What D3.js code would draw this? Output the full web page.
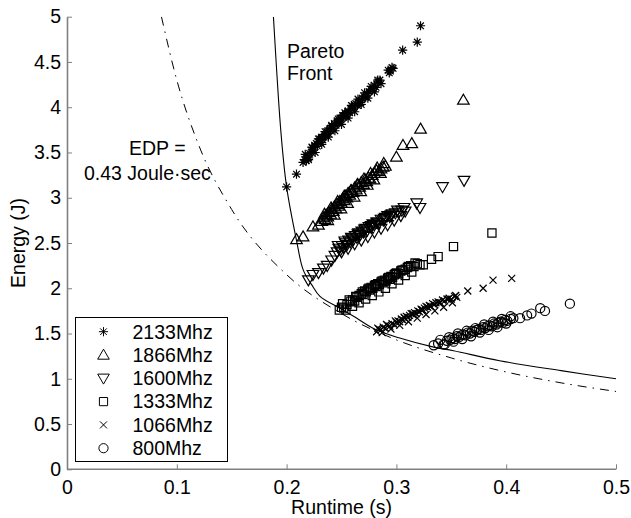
<!DOCTYPE html>
<html>
<head>
<meta charset="utf-8">
<script src="https://cdn.jsdelivr.net/npm/d3@7"></script>
<style>
  body { margin: 0; background: #fff; }
  svg { display: block; font-family: "Liberation Sans", Arial, Helvetica, sans-serif; }
</style>
</head>
<body>
<div id="chart"></div>
<script>
// Runtime (s) / Energy (J) pairs, one list per memory clock
const s2133 = [[0.200,3.12],[0.209,3.26],[0.215,3.39],[0.2165,3.42],[0.218,3.41],[0.219,3.46],[0.220,3.44],[0.221,3.49],
  [0.2225,3.50],[0.2235,3.55],[0.2245,3.53],[0.2255,3.58],[0.227,3.60],[0.228,3.57],[0.229,3.62],[0.230,3.65],[0.231,3.61],
  [0.232,3.67],[0.233,3.64],[0.2345,3.70],[0.2355,3.68],[0.2365,3.73],[0.238,3.71],[0.239,3.76],[0.240,3.74],[0.241,3.79],
  [0.2425,3.77],[0.2435,3.82],[0.245,3.80],[0.246,3.85],[0.247,3.83],[0.2485,3.88],[0.2495,3.86],[0.251,3.91],[0.252,3.89],
  [0.2535,3.93],[0.255,3.92],[0.256,3.96],[0.2575,3.94],[0.259,3.98],[0.260,4.01],[0.2615,3.99],[0.263,4.04],[0.2645,4.02],
  [0.266,4.07],[0.2675,4.05],[0.269,4.10],[0.2705,4.12],[0.272,4.11],[0.2735,4.15],[0.275,4.17],[0.2765,4.20],[0.278,4.19],
  [0.280,4.24],[0.2815,4.22],[0.283,4.28],[0.285,4.30],[0.2925,4.41],[0.2945,4.40],[0.297,4.43],[0.3057,4.63],[0.319,4.72],[0.322,4.90],
  [0.217,3.48],[0.220,3.42],[0.223,3.56],[0.226,3.50],[0.229,3.65],[0.232,3.59],[0.235,3.73],[0.238,3.67],[0.241,3.80],
  [0.244,3.74],[0.247,3.87],[0.250,3.81],[0.253,3.94],[0.256,3.88],[0.259,4.02],[0.262,3.95],[0.265,4.09],[0.268,4.03],
  [0.271,4.16],[0.274,4.10],[0.277,4.23],[0.280,4.17],[0.283,4.30],[0.286,4.26],[0.2935,4.38],[0.296,4.44]];
const s1866 = [[0.209,2.54],[0.215,2.57],[0.224,2.68],[0.229,2.70],[0.232,2.74],[0.2335,2.78],[0.235,2.76],[0.236,2.81],
  [0.2375,2.79],[0.2385,2.84],[0.240,2.82],[0.241,2.87],[0.2425,2.85],[0.2435,2.90],[0.245,2.88],[0.246,2.93],[0.2475,2.91],
  [0.2485,2.96],[0.250,2.94],[0.251,2.99],[0.2525,2.97],[0.2535,3.02],[0.255,3.00],[0.256,3.05],[0.2575,3.03],[0.259,3.08],
  [0.2605,3.06],[0.262,3.11],[0.2635,3.09],[0.265,3.14],[0.2665,3.12],[0.268,3.17],[0.270,3.15],[0.2715,3.20],[0.273,3.18],
  [0.2745,3.22],[0.276,3.21],[0.278,3.25],[0.280,3.27],[0.282,3.30],[0.284,3.29],[0.286,3.32],[0.288,3.34],[0.290,3.35],
  [0.300,3.45],[0.306,3.58],[0.314,3.60],[0.322,3.76],[0.361,4.08],
  [0.2345,2.82],[0.2375,2.75],[0.2405,2.89],[0.2435,2.81],[0.2465,2.96],[0.2495,2.88],[0.2525,3.02],[0.2555,2.94],
  [0.2585,3.08],[0.2615,3.01],[0.2645,3.15],[0.2675,3.07],[0.2705,3.21],[0.2735,3.14],[0.2765,3.27],[0.2795,3.20],
  [0.2825,3.33],[0.2855,3.27],[0.2885,3.38]];
const s1600 = [[0.2198,2.09],[0.224,2.15],[0.229,2.17],[0.2335,2.22],[0.237,2.25],[0.241,2.31],[0.244,2.36],[0.246,2.40],
  [0.2475,2.44],[0.249,2.42],[0.2505,2.47],[0.252,2.45],[0.2535,2.50],[0.255,2.48],[0.2565,2.53],[0.258,2.51],[0.2595,2.55],
  [0.261,2.54],[0.2625,2.58],[0.264,2.56],[0.2655,2.61],[0.267,2.59],[0.2685,2.63],[0.270,2.62],[0.272,2.66],[0.2735,2.64],
  [0.275,2.68],[0.277,2.67],[0.2785,2.71],[0.280,2.70],[0.282,2.73],[0.284,2.72],[0.286,2.76],[0.288,2.75],[0.290,2.78],
  [0.292,2.80],[0.294,2.79],[0.296,2.82],[0.299,2.83],[0.302,2.84],[0.305,2.86],[0.308,2.85],[0.3185,2.94],[0.3215,2.89],
  [0.342,3.12],[0.3616,3.19],
  [0.247,2.47],[0.250,2.40],[0.253,2.52],[0.256,2.44],[0.259,2.56],[0.262,2.49],[0.265,2.60],[0.268,2.53],[0.271,2.65],
  [0.274,2.57],[0.277,2.69],[0.280,2.62],[0.283,2.73],[0.286,2.66],[0.289,2.77],[0.292,2.70],[0.295,2.81],[0.298,2.75],
  [0.301,2.86],[0.304,2.80],[0.307,2.89]];
const s1333 = [[0.248,1.76],[0.250,1.79],[0.252,1.78],[0.255,1.82],[0.258,1.85],[0.260,1.87],[0.262,1.86],[0.264,1.90],
  [0.266,1.92],[0.268,1.94],[0.2695,1.93],[0.271,1.97],[0.2725,1.96],[0.274,1.99],[0.2755,1.98],[0.277,2.01],[0.2785,2.00],
  [0.280,2.03],[0.2815,2.02],[0.283,2.05],[0.2845,2.04],[0.286,2.07],[0.2875,2.06],[0.289,2.09],[0.2905,2.08],[0.292,2.11],
  [0.2935,2.10],[0.295,2.13],[0.2965,2.12],[0.298,2.15],[0.300,2.17],[0.302,2.16],[0.304,2.19],[0.306,2.20],[0.308,2.21],
  [0.310,2.23],[0.313,2.25],[0.316,2.24],[0.319,2.27],[0.3215,2.26],[0.3245,2.26],[0.332,2.32],[0.338,2.35],[0.352,2.46],[0.387,2.61],
  [0.251,1.83],[0.254,1.76],[0.257,1.87],[0.260,1.80],[0.263,1.91],[0.266,1.84],[0.269,1.96],[0.272,1.88],[0.275,2.00],
  [0.278,1.92],[0.281,2.04],[0.284,1.96],[0.287,2.08],[0.290,2.00],[0.293,2.12],[0.296,2.05],[0.299,2.16],[0.302,2.09],
  [0.305,2.20],[0.308,2.14],[0.311,2.24],[0.314,2.18],[0.317,2.28]];
const s1066 = [[0.282,1.52],[0.284,1.55],[0.286,1.54],[0.288,1.57],[0.290,1.56],[0.292,1.59],[0.294,1.58],[0.296,1.61],
  [0.298,1.60],[0.300,1.62],[0.3015,1.64],[0.303,1.63],[0.3045,1.66],[0.306,1.65],[0.3075,1.67],[0.309,1.69],[0.3105,1.68],
  [0.312,1.70],[0.3135,1.72],[0.315,1.71],[0.3165,1.73],[0.318,1.72],[0.3195,1.75],[0.321,1.74],[0.3225,1.77],[0.324,1.76],
  [0.3255,1.78],[0.327,1.80],[0.3285,1.79],[0.330,1.81],[0.3315,1.80],[0.333,1.83],[0.3345,1.82],[0.336,1.84],[0.338,1.85],
  [0.340,1.84],[0.342,1.87],[0.344,1.86],[0.346,1.88],[0.348,1.89],[0.350,1.88],[0.353,1.91],[0.355,1.90],[0.365,1.97],
  [0.379,2.00],[0.388,2.09],[0.405,2.11],
  [0.283,1.56],[0.287,1.51],[0.291,1.60],[0.295,1.55],[0.299,1.64],[0.303,1.59],[0.307,1.68],[0.311,1.63],[0.315,1.72],
  [0.319,1.67],[0.323,1.76],[0.327,1.71],[0.331,1.80],[0.335,1.75],[0.339,1.84],[0.343,1.79],[0.347,1.88],[0.351,1.84],[0.354,1.92]];
const s800 = [[0.334,1.37],[0.338,1.39],[0.343,1.38],[0.346,1.42],[0.349,1.43],[0.351,1.45],[0.353,1.44],[0.355,1.47],
  [0.357,1.46],[0.359,1.48],[0.361,1.49],[0.363,1.48],[0.365,1.51],[0.367,1.50],[0.369,1.53],[0.371,1.52],[0.373,1.54],
  [0.375,1.55],[0.377,1.54],[0.379,1.57],[0.381,1.56],[0.383,1.58],[0.385,1.59],[0.387,1.58],[0.389,1.61],[0.391,1.60],
  [0.393,1.62],[0.395,1.63],[0.397,1.62],[0.399,1.65],[0.401,1.64],[0.404,1.66],[0.4065,1.67],[0.4126,1.67],[0.419,1.70],
  [0.423,1.72],[0.431,1.78],[0.4353,1.75],[0.458,1.83],
  [0.340,1.43],[0.344,1.38],[0.348,1.46],[0.352,1.41],[0.356,1.50],[0.360,1.44],[0.364,1.53],[0.368,1.47],[0.372,1.56],
  [0.376,1.51],[0.380,1.60],[0.384,1.54],[0.388,1.63],[0.392,1.57],[0.396,1.66],[0.400,1.61],[0.404,1.69]];

const seriesNames = ["2133Mhz", "1866Mhz", "1600Mhz", "1333Mhz", "1066Mhz", "800Mhz"];
const seriesData = [s2133, s1866, s1600, s1333, s1066, s800];
const seriesMarkers = ["star", "up", "down", "square", "cross", "circle"];

// solid Pareto front and dash-dot EDP = 0.43 curve
const paretoFront = [[0.188,5.0],[0.1915,4.3],[0.195,3.7],[0.200,3.12],[0.209,2.53],[0.2152,2.2],[0.2228,2.04],
  [0.2304,1.91],[0.250,1.77],[0.261,1.69],[0.280,1.55],[0.303,1.45],[0.334,1.35],[0.352,1.31],[0.394,1.2],[0.450,1.09],[0.500,1.0]];
const edpCurve = [[0.086,5.0],[0.10,4.3],[0.12,3.58],[0.15,2.87],[0.20,2.15],[0.25,1.72],[0.30,1.43],[0.35,1.23],[0.40,1.075],[0.45,0.955],[0.50,0.86]];

const xTicks = [0, 0.1, 0.2, 0.3, 0.4, 0.5];
const yTicks = [0, 0.5, 1, 1.5, 2, 2.5, 3, 3.5, 4, 4.5, 5];

const width = 631, height = 518;
const fontSize = "19.5px";

const x = d3.scaleLinear().domain([0, 0.5]).range([67, 616]);
const y = d3.scaleLinear().domain([0, 5]).range([469.3, 16.7]);

const svg = d3.select("#chart").append("svg")
    .attr("width", width)
    .attr("height", height);

svg.append("rect").attr("width", width).attr("height", height).attr("fill", "#fff");

// marker shapes, centred on 0,0
function markerPath(kind) {
  const p = d3.path();
  if (kind === "star") {
    const r = 4.6, d = 3.3;
    p.moveTo(-r, 0); p.lineTo(r, 0);
    p.moveTo(0, -r); p.lineTo(0, r);
    p.moveTo(-d, -d); p.lineTo(d, d);
    p.moveTo(-d, d); p.lineTo(d, -d);
  } else if (kind === "up") {
    p.moveTo(0, -5.8); p.lineTo(5.8, 4.2); p.lineTo(-5.8, 4.2); p.closePath();
  } else if (kind === "down") {
    p.moveTo(0, 5.8); p.lineTo(5.8, -4.2); p.lineTo(-5.8, -4.2); p.closePath();
  } else if (kind === "square") {
    p.rect(-4.1, -4.1, 8.2, 8.2);
  } else if (kind === "cross") {
    const r = 3.5;
    p.moveTo(-r, -r); p.lineTo(r, r);
    p.moveTo(-r, r); p.lineTo(r, -r);
  } else {
    p.arc(0, 0, 4.6, 0, 2 * Math.PI);
  }
  return p.toString();
}

// axes
const xAxis = d3.axisBottom(x).tickValues(xTicks).tickFormat(d3.format("")).tickSizeInner(-5).tickSizeOuter(0).tickPadding(11);
const yAxis = d3.axisLeft(y).tickValues(yTicks).tickFormat(d3.format("")).tickSizeInner(-5).tickSizeOuter(0).tickPadding(6);

const gx = svg.append("g").attr("transform", `translate(0,${y(0)})`).call(xAxis);
const gy = svg.append("g").attr("transform", `translate(${x(0)},0)`).call(yAxis);

[gx, gy].forEach(g => {
  g.select(".domain").attr("stroke", "#808080").attr("stroke-width", 1.6);
  g.selectAll(".tick line").attr("stroke", "#808080").attr("stroke-width", 1);
  g.selectAll(".tick text").attr("fill", "#000").style("font-size", fontSize).style("font-family", "Liberation Sans, Arial, sans-serif");
});
gx.select(".domain").attr("d", `M${x(0)},0H${x(0.5)}`);

svg.append("text")
    .attr("x", (x(0) + x(0.5)) / 2)
    .attr("y", 514)
    .attr("text-anchor", "middle")
    .style("font-size", fontSize)
    .text("Runtime (s)");

svg.append("text")
    .attr("transform", `translate(25,${(y(0) + y(5)) / 2}) rotate(-90)`)
    .attr("text-anchor", "middle")
    .style("font-size", fontSize)
    .text("Energy (J)");

// curves
svg.append("clipPath").attr("id", "plotclip")
  .append("rect").attr("x", x(0)).attr("y", y(5)).attr("width", x(0.5) - x(0)).attr("height", y(0) - y(5));

const line = d3.line().x(d => x(d[0])).y(d => y(d[1])).curve(d3.curveMonotoneX);

svg.append("path")
    .attr("d", line(edpCurve))
    .attr("clip-path", "url(#plotclip)")
    .attr("fill", "none")
    .attr("stroke", "#000")
    .attr("stroke-width", 1)
    .attr("stroke-dasharray", "9,6,1.5,6");

svg.append("path")
    .attr("d", d3.line().x(d => x(d[0])).y(d => y(d[1])).curve(d3.curveCatmullRom.alpha(0.5))(paretoFront))
    .attr("clip-path", "url(#plotclip)")
    .attr("fill", "none")
    .attr("stroke", "#000")
    .attr("stroke-width", 1.1);

// scatter series
seriesData.forEach((pts, i) => {
  svg.append("g")
    .selectAll("path")
    .data(pts)
    .join("path")
      .attr("transform", d => `translate(${x(d[0])},${y(d[1])})`)
      .attr("d", markerPath(seriesMarkers[i]))
      .attr("fill", "none")
      .attr("stroke", "#000")
      .attr("stroke-width", 1.2);
});

// annotations
const notes = [["Pareto", 287, 58], ["Front", 287, 80], ["EDP =", 129, 155], ["0.43 Joule\u00b7sec", 84, 180]];
svg.append("g").selectAll("text")
  .data(notes)
  .join("text")
    .attr("x", d => d[1])
    .attr("y", d => d[2])
    .style("font-size", fontSize)
    .text(d => d[0]);

// legend
const legend = svg.append("g");
legend.append("rect")
    .attr("x", 75.5).attr("y", 317.5)
    .attr("width", 152).attr("height", 144)
    .attr("fill", "#fff").attr("stroke", "#000").attr("stroke-width", 1);

seriesNames.forEach((name, i) => {
  const cy = 331.7 + i * 23.3;
  legend.append("path")
    .attr("transform", `translate(103.5,${cy})`)
    .attr("d", markerPath(seriesMarkers[i]))
    .attr("fill", "none").attr("stroke", "#000").attr("stroke-width", 1);
  legend.append("text")
    .attr("x", 132.5).attr("y", cy + 6.8)
    .style("font-size", fontSize)
    .text(name);
});
</script>
</body>
</html>
